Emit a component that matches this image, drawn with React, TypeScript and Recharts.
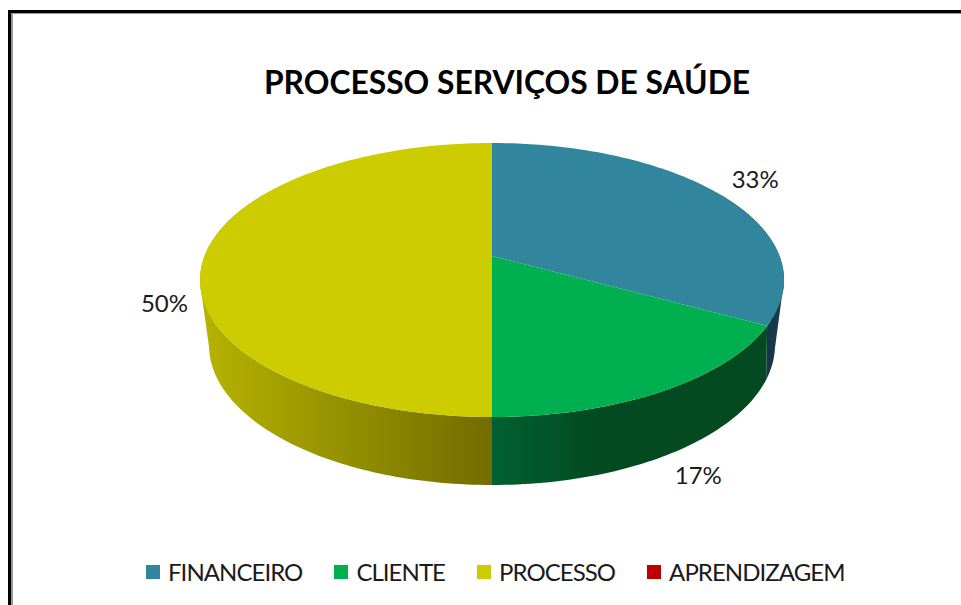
import { Pie, PieChart, Legend } from "recharts";

const categories = ["FINANCEIRO", "CLIENTE", "PROCESSO", "APRENDIZAGEM"];
const shares = [33, 17, 50, 0];
const topColors = ["#31859c", "#00b050", "#cccc00", "#c00000"];
const sideFills = ["url(#sideBlue)", "url(#sideGreen)", "url(#sideYellow)", "#600000"];
// where Excel pushed each percent label, relative to the rim point of the slice
const labelNudges = [
  [36, -15],
  [34, 84],
  [-40, 46],
  [0, 0],
];

const rows = categories.map((name, i) => ({
  name,
  value: shares[i],
  fill: topColors[i],
}));

// perspective disc: ratios are relative to the pie's outer radius
const TOP = { rx: 1, ry: 137 / 292, dy: 0, shift: -24 / 292 };
const BOTTOM = { rx: 283 / 292, ry: 140 / 292, dy: 65 / 292, shift: -37 / 292 };

type Disc = typeof TOP;

// deg is the recharts angle (90 = top, going clockwise to -270)
function project(deg: number, disc: Disc, cx: number, cy: number, r: number) {
  const t = ((90 - deg) * Math.PI) / 180;
  const u = Math.sin(t);
  const v = -Math.cos(t);
  const s = -disc.shift / disc.ry;
  const w = 1 - s * v;
  const a = disc.rx * Math.sqrt(1 - s * s);
  return {
    x: cx + (r * a * u) / w,
    y: cy + r * disc.dy + (r * (disc.ry * v + disc.shift)) / w,
  };
}

function sweep(from: number, to: number) {
  const n = Math.max(2, Math.ceil(Math.abs(from - to)));
  const list: number[] = [];
  for (let i = 0; i <= n; i++) list.push(from + ((to - from) * i) / n);
  return list;
}

function SliceShape(props: any) {
  const { cx, cy, outerRadius, startAngle, endAngle, fill, index } = props;
  if (startAngle === endAngle) return null;

  const rim = sweep(startAngle, endAngle).map((a) => project(a, TOP, cx, cy, outerRadius));
  const topPath =
    `M${cx},${cy + outerRadius * TOP.shift} ` +
    rim.map((p) => `L${p.x},${p.y}`).join(" ") +
    " Z";

  // wall: only the part facing the viewer, built from quads so the silhouette stays straight
  const wallFrom = Math.min(startAngle, 30);
  const wallTo = Math.max(endAngle, -210);
  let wallPath = "";
  if (wallFrom > wallTo) {
    const steps = sweep(wallFrom, wallTo);
    for (let i = 0; i < steps.length - 1; i++) {
      const q = [
        project(steps[i], TOP, cx, cy, outerRadius),
        project(steps[i + 1], TOP, cx, cy, outerRadius),
        project(steps[i + 1], BOTTOM, cx, cy, outerRadius),
        project(steps[i], BOTTOM, cx, cy, outerRadius),
      ];
      let area = 0;
      q.forEach((p, j) => {
        const o = q[(j + 1) % 4];
        area += p.x * o.y - o.x * p.y;
      });
      if (area < 0) q.reverse();
      wallPath += `M${q.map((p) => `${p.x},${p.y}`).join(" L")} Z `;
    }
  }

  return (
    <g>
      {wallPath && <path d={wallPath} fill={sideFills[index]} />}
      <path d={topPath} fill={fill} />
    </g>
  );
}

function percentLabel(props: any) {
  const { cx, cy, outerRadius, midAngle, value, index } = props;
  if (!value) return null;
  const p = project(midAngle, TOP, cx, cy, outerRadius);
  const [nx, ny] = labelNudges[index];
  return (
    <text
      x={p.x + nx}
      y={p.y + ny}
      textAnchor="middle"
      dominantBaseline="central"
      fontFamily="Lato, sans-serif"
      fontSize={24}
      fill="#1a1a1a"
    >
      {value}%
    </text>
  );
}

function LegendRow({ payload }: any) {
  return (
    <div style={{ display: "flex", fontFamily: "Lato, sans-serif", fontSize: 24, letterSpacing: -0.95, color: "#1a1a1a" }}>
      {(payload || []).map((item: any) => (
        <div key={item.value} style={{ display: "flex", alignItems: "center", marginRight: 32 }}>
          <span style={{ width: 14, height: 14, background: item.color, marginRight: 8, display: "block" }} />
          <span style={{ lineHeight: "30px" }}>{item.value}</span>
        </div>
      ))}
    </div>
  );
}

export default function App() {
  return (
    <div style={{ position: "absolute", left: 0, top: 0, width: 961, height: 605, overflow: "hidden", background: "#fff" }}>
      <div style={{ position: "absolute", left: 8, top: 10, right: 0, bottom: 0, borderLeft: "3px solid #000", borderTop: "3px solid #000" }}>
        <div style={{ position: "absolute", left: 0, top: 0, right: 0, bottom: 0, borderLeft: "2px solid #999", borderTop: "1px solid #999" }} />
      </div>
      <div style={{ position: "absolute", left: 0, top: 0 }}>
        <PieChart width={961} height={605} margin={{ top: 0, right: 0, bottom: 0, left: 0 }}>
          <defs>
            <linearGradient id="sideYellow" gradientUnits="userSpaceOnUse" x1={200} y1={0} x2={492} y2={0}>
              <stop offset="0" stopColor="#b6b300" />
              <stop offset="1" stopColor="#736c00" />
            </linearGradient>
            <linearGradient id="sideGreen" gradientUnits="userSpaceOnUse" x1={492} y1={0} x2={600} y2={0}>
              <stop offset="0" stopColor="#006030" />
              <stop offset="1" stopColor="#034a20" />
            </linearGradient>
            <linearGradient id="sideBlue" gradientUnits="userSpaceOnUse" x1={760} y1={0} x2={784} y2={0}>
              <stop offset="0" stopColor="#143344" />
              <stop offset="1" stopColor="#1a3d50" />
            </linearGradient>
          </defs>
          <text
            x={507}
            y={82}
            textAnchor="middle"
            dominantBaseline="central"
            fontFamily="Lato, sans-serif"
            fontWeight={700}
            fontSize={31.8}
            fill="#000"
          >
            PROCESSO SERVIÇOS DE SAÚDE
          </text>
          <Pie
            data={rows}
            dataKey="value"
            nameKey="name"
            cx={492}
            cy={280}
            outerRadius={292}
            startAngle={90}
            endAngle={-270}
            stroke="none"
            shape={SliceShape}
            label={percentLabel}
            labelLine={false}
            isAnimationActive={false}
          />
          <Legend
            content={<LegendRow />}
            itemSorter={null}
            wrapperStyle={{ position: "absolute", left: 146, top: 557, width: 800, bottom: "auto" }}
          />
        </PieChart>
      </div>
    </div>
  );
}
